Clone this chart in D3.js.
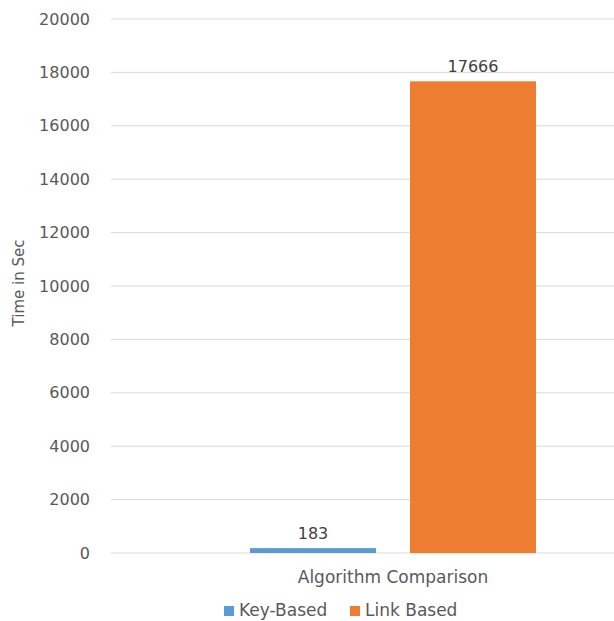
<!DOCTYPE html>
<html>
<head>
<meta charset="utf-8">
<script src="https://cdn.jsdelivr.net/npm/d3@7"></script>
<style>
  body { margin: 0; background: #fff; }
  svg { display: block; font-family: "DejaVu Sans", sans-serif; }
</style>
</head>
<body>
<div id="chart"></div>
<script>
// datos del gráfico
const categorias = ["Algorithm Comparison"];
const series = ["Key-Based", "Link Based"];
const valores = [183, 17666];
const colores = ["#5b9bd5", "#ed7d31"];
const ticks = [0, 2000, 4000, 6000, 8000, 10000, 12000, 14000, 16000, 18000, 20000];

let ancho = 614, alto = 621;
let svg = d3.select("#chart").append("svg")
    .attr("width", ancho)
    .attr("height", alto);

// escalas
let y = d3.scaleLinear().domain([0, 20000]).range([553, 19]);
let x0 = d3.scaleBand().domain(categorias).range([111, 675]).paddingInner(0).paddingOuter(0.486);
let x1 = d3.scaleBand().domain(series).range([0, x0.bandwidth()]).paddingInner(0.2125);

// rejilla
svg.append("g").selectAll("line").data(ticks).enter().append("line")
    .attr("x1", 111).attr("x2", 675)
    .attr("y1", d => y(d)).attr("y2", d => y(d))
    .attr("stroke", "#d9d9d9").attr("stroke-width", 1);

// eje y
let ejeY = svg.append("g").attr("transform", "translate(90,0)")
    .call(d3.axisLeft(y).tickValues(ticks).tickSize(0).tickPadding(0).tickFormat(d3.format("d")));
ejeY.select(".domain").remove();
ejeY.selectAll("text").attr("fill", "#595959").style("font-size", "16px")
    .style("font-family", "'DejaVu Sans', sans-serif");

// título del eje
svg.append("text")
    .attr("transform", "translate(24,283) rotate(-90)")
    .attr("text-anchor", "middle")
    .attr("fill", "#595959").style("font-size", "15px")
    .text("Time in Sec");

// barras
let grupo = svg.append("g").attr("transform", "translate(" + x0(categorias[0]) + ",0)");
grupo.selectAll("rect").data(valores).enter().append("rect")
    .attr("x", (d, i) => x1(series[i]))
    .attr("y", d => y(d))
    .attr("width", x1.bandwidth())
    .attr("height", d => y(0) - y(d))
    .attr("fill", (d, i) => colores[i]);

// etiquetas de datos
grupo.selectAll("text").data(valores).enter().append("text")
    .attr("x", (d, i) => x1(series[i]) + x1.bandwidth() / 2)
    .attr("y", d => y(d) - 9)
    .attr("text-anchor", "middle")
    .attr("fill", "#404040").style("font-size", "16px")
    .text(d => d);

// etiqueta de categoría
svg.append("text")
    .attr("x", x0(categorias[0]) + x0.bandwidth() / 2)
    .attr("y", 583)
    .attr("text-anchor", "middle")
    .attr("fill", "#595959").style("font-size", "17px")
    .text(categorias[0]);

// leyenda
let leyendaX = [224, 350];
let leyenda = svg.append("g").selectAll("g").data(series).enter().append("g")
    .attr("transform", (d, i) => "translate(" + leyendaX[i] + ",616)");
leyenda.append("rect")
    .attr("x", 0).attr("y", -10).attr("width", 10).attr("height", 10)
    .attr("fill", (d, i) => colores[i]);
leyenda.append("text")
    .attr("x", 15).attr("y", 0)
    .attr("fill", "#595959").style("font-size", "17px")
    .text(d => d);
</script>
</body>
</html>
